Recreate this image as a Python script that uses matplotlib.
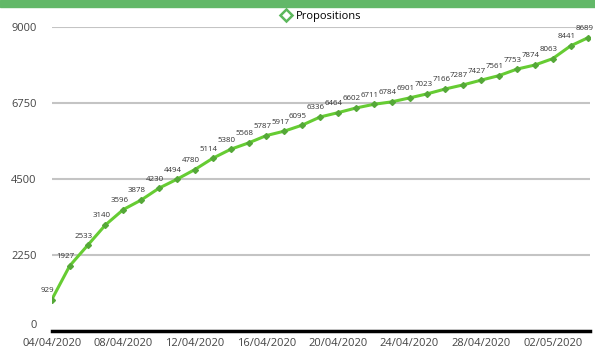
import matplotlib.pyplot as plt
from matplotlib.patches import Rectangle
from matplotlib.lines import Line2D
import pandas as pd

plt.rcParams['font.family'] = ['Open Sans', 'DejaVu Sans']

start_date = '2020-04-04'
propositions = [929, 1927, 2533, 3140, 3596, 3878, 4230, 4494, 4780, 5114,
                5380, 5568, 5787, 5917, 6095, 6336, 6464, 6602, 6711, 6784,
                6901, 7023, 7166, 7287, 7427, 7561, 7753, 7874, 8063, 8441,
                8689]
y_ticks = [0, 2250, 4500, 6750, 9000]

dates = pd.date_range(start_date, periods=len(propositions), freq='D')
tick_dates = dates[::4]

line_green = '#66cc33'
marker_green = '#55a838'

fig = plt.figure(figsize=(5.95, 3.49), dpi=100)
fig.patches.append(Rectangle((0, 0.98), 1, 0.02, transform=fig.transFigure,
                             color='#62b868', zorder=0))

ax = fig.add_axes([0.087, 0.0516, 0.905, 0.871])
ax.plot(dates, propositions, color=line_green, lw=2.2, marker='D',
        markersize=3, markerfacecolor=marker_green, markeredgecolor=marker_green,
        zorder=3)

for d, v in zip(dates, propositions):
    ax.annotate(str(v), (d, v), xytext=(-3, 4), textcoords='offset points',
                ha='center', va='bottom', fontsize=5.7, color='#333333')

ax.set_ylim(0, 9000)
ax.set_xlim(dates[0], dates[0] + pd.Timedelta(days=30.1))
ax.set_yticks(y_ticks)
ax.set_yticklabels([str(t) for t in y_ticks], fontsize=8, color='#444444')
ax.set_xticks(tick_dates)
ax.set_xticklabels([d.strftime('%d/%m/%Y') for d in tick_dates], fontsize=8,
                   color='#444444')
ax.tick_params(length=0)
ax.tick_params(axis='x', pad=5)
ax.tick_params(axis='y', pad=11)
# "0" sits a little above the axis line, as in the original
ax.get_yticklabels()[0].set_va('bottom')

ax.grid(axis='y', color='#c4c4c4', lw=1.5)
ax.set_axisbelow(True)
for side in ['top', 'right', 'left']:
    ax.spines[side].set_visible(False)
ax.spines['bottom'].set_linewidth(2.5)
ax.spines['bottom'].set_color('black')
ax.spines['bottom'].set_zorder(4)

handle = Line2D([], [], color='none', marker='D', markersize=6,
                markerfacecolor='white', markeredgecolor='#5cb85c',
                markeredgewidth=1.8)
fig.legend([handle], ['Propositions'], loc='center', bbox_to_anchor=(0.54, 0.953),
           frameon=False, fontsize=8, handletextpad=0.4, handlelength=1)

fig.savefig('out.png', dpi=100)
